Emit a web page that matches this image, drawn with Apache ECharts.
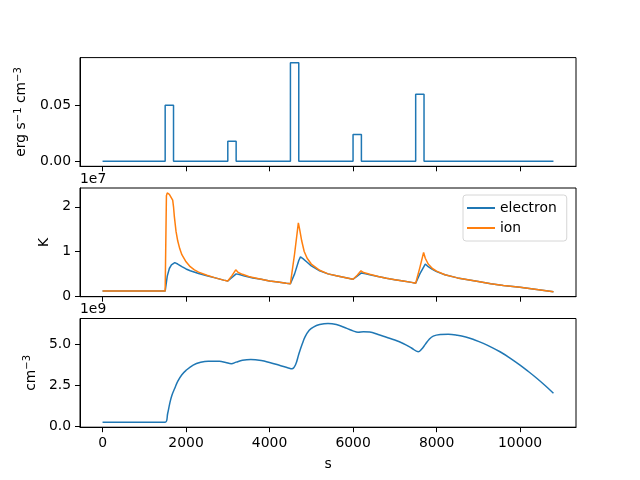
<!DOCTYPE html>
<html>
<head>
<meta charset="utf-8">
<script src="https://cdn.jsdelivr.net/npm/echarts@6/dist/echarts.min.js"></script>
<style>
html,body{margin:0;padding:0;background:#fff;}
#chart{width:640px;height:480px;}
</style>
</head>
<body>
<div id="chart"></div>
<script>
// ---- data ----
const xTicks = [0, 2000, 4000, 6000, 8000, 10000];

// heating rate (erg s^-1 cm^-3)
const heatTime = [0, 1500, 1500, 1700, 1700, 3000, 3000, 3200, 3200, 4500, 4500, 4700, 4700, 6000, 6000, 6200, 6200, 7500, 7500, 7700, 7700, 10800];
const heatRate = [0, 0, 0.05, 0.05, 0, 0, 0.018, 0.018, 0, 0, 0.088, 0.088, 0, 0, 0.024, 0.024, 0, 0, 0.06, 0.06, 0, 0];
const heatTicks = [0, 0.05];

// temperature (units of 1e7 K)
const elecTime = [0, 1500, 1550, 1600, 1650, 1730, 1800, 1900, 2000, 2100, 2300, 2500, 2700, 2900, 3000, 3100, 3200, 3300, 3400, 3600, 3800, 4000, 4200, 4400, 4500, 4600, 4700, 4740, 4800, 4900, 5000, 5200, 5400, 5600, 5800, 6000, 6100, 6200, 6300, 6400, 6600, 6800, 7000, 7200, 7400, 7500, 7600, 7730, 7800, 7900, 8000, 8200, 8500, 9000, 9300, 9600, 10000, 10400, 10800];
const elecTemp = [0.115, 0.115, 0.45, 0.62, 0.70, 0.75, 0.72, 0.66, 0.61, 0.57, 0.51, 0.46, 0.41, 0.36, 0.34, 0.42, 0.50, 0.48, 0.45, 0.41, 0.38, 0.34, 0.32, 0.29, 0.28, 0.50, 0.80, 0.88, 0.84, 0.76, 0.68, 0.57, 0.50, 0.46, 0.42, 0.38, 0.45, 0.52, 0.50, 0.48, 0.44, 0.40, 0.37, 0.34, 0.31, 0.29, 0.50, 0.72, 0.66, 0.60, 0.55, 0.48, 0.41, 0.33, 0.28, 0.24, 0.20, 0.15, 0.10];
const ionTime = [0, 1500, 1530, 1550, 1600, 1680, 1700, 1720, 1760, 1800, 1850, 1900, 2000, 2100, 2200, 2300, 2500, 2700, 2900, 3000, 3100, 3190, 3250, 3350, 3500, 3600, 3800, 4000, 4200, 4400, 4500, 4600, 4690, 4720, 4770, 4830, 4900, 5000, 5200, 5400, 5600, 5800, 6000, 6100, 6190, 6250, 6400, 6600, 6800, 7000, 7200, 7400, 7500, 7600, 7690, 7730, 7800, 7900, 8000, 8200, 8500, 9000, 9300, 9600, 10000, 10400, 10800];
const ionTemp = [0.115, 0.115, 2.25, 2.31, 2.28, 2.15, 2.0, 1.78, 1.45, 1.24, 1.06, 0.93, 0.77, 0.66, 0.59, 0.54, 0.47, 0.41, 0.36, 0.34, 0.46, 0.59, 0.53, 0.49, 0.44, 0.42, 0.38, 0.34, 0.32, 0.29, 0.28, 0.95, 1.64, 1.50, 1.24, 1.00, 0.85, 0.72, 0.58, 0.50, 0.46, 0.42, 0.38, 0.47, 0.57, 0.53, 0.49, 0.44, 0.40, 0.37, 0.34, 0.31, 0.29, 0.64, 0.98, 0.85, 0.72, 0.62, 0.56, 0.48, 0.41, 0.33, 0.28, 0.24, 0.20, 0.15, 0.10];
const tempTicks = [0, 1, 2];

// density (units of 1e9 cm^-3)
const densTime = [0, 1500, 1560, 1610, 1660, 1730, 1800, 1900, 2000, 2170, 2350, 2530, 2800, 2950, 3085, 3200, 3350, 3550, 3800, 4000, 4250, 4450, 4540, 4620, 4700, 4780, 4850, 4950, 5050, 5200, 5400, 5600, 5850, 6000, 6120, 6250, 6400, 6600, 6800, 7000, 7200, 7400, 7560, 7640, 7730, 7820, 7920, 8100, 8280, 8500, 8700, 8900, 9120, 9320, 9520, 9760, 10000, 10200, 10400, 10600, 10800];
const density = [0.27, 0.27, 0.8, 1.42, 1.9, 2.33, 2.75, 3.15, 3.42, 3.74, 3.91, 3.98, 3.97, 3.90, 3.83, 3.92, 4.03, 4.08, 4.02, 3.90, 3.72, 3.57, 3.52, 3.75, 4.4, 5.0, 5.45, 5.85, 6.05, 6.2, 6.27, 6.2, 5.97, 5.82, 5.74, 5.76, 5.75, 5.6, 5.43, 5.26, 5.05, 4.78, 4.55, 4.7, 5.0, 5.3, 5.5, 5.6, 5.62, 5.56, 5.45, 5.28, 5.06, 4.82, 4.55, 4.17, 3.74, 3.35, 2.94, 2.50, 2.03];
const densTicks = [0, 2.5, 5.0];

// ---- chart ----
const zip = (a, b) => a.map((v, i) => [v, b[i]]);
const FONT = 'DejaVu Sans';
const FS = 13.9;
const C1 = '#1f77b4', C2 = '#ff7f0e';
const gridTops = [57.6, 188.0, 318.5];
const gridH = 108.7;
const nameRich = {
  n: {color: '#000', fontFamily: FONT, fontSize: FS},
  s: {color: '#000', fontFamily: FONT, fontSize: 10, padding: [0, 0, 7, 0]}
};

function xAxis(i, showLabels) {
  return {
    type: 'value', gridIndex: i, min: -540, max: 11340,
    splitLine: {show: false},
    axisLine: {show: true, onZero: false, lineStyle: {color: '#000', width: 1}},
    axisTick: {show: true, length: 5, lineStyle: {color: '#000'}, customValues: xTicks},
    axisLabel: {show: showLabels, customValues: xTicks, formatter: v => String(v), color: '#000', fontFamily: FONT, fontSize: FS, margin: 9},
    name: showLabels ? 's' : '', nameLocation: 'middle', nameGap: 30,
    nameTextStyle: {color: '#000', fontFamily: FONT, fontSize: FS}
  };
}
function yAxis(i, min, max, ticks, fmt, name, gap) {
  return {
    type: 'value', gridIndex: i, min: min, max: max,
    splitLine: {show: false},
    axisLine: {show: true, onZero: false, lineStyle: {color: '#000', width: 1}},
    axisTick: {show: true, length: 5, lineStyle: {color: '#000'}, customValues: ticks},
    axisLabel: {customValues: ticks, formatter: fmt, color: '#000', fontFamily: FONT, fontSize: FS, margin: 9},
    name: name, nameLocation: 'middle', nameRotate: 90, nameGap: gap,
    nameTextStyle: {color: '#000', fontFamily: FONT, fontSize: FS, rich: nameRich}
  };
}

const chart = echarts.init(document.getElementById('chart'), null, {renderer: 'canvas'});
chart.setOption({
  animation: false,
  backgroundColor: '#fff',
  textStyle: {fontFamily: FONT},
  grid: gridTops.map(t => ({left: 80, width: 496, top: t, height: gridH, show: true, borderColor: '#000', borderWidth: 1, backgroundColor: 'transparent'})),
  xAxis: [xAxis(0, false), xAxis(1, false), xAxis(2, true)],
  yAxis: [
    yAxis(0, -0.0044, 0.0926, heatTicks, v => v.toFixed(2), '{n|erg s}{s|\u22121}{n| cm}{s|\u22123}', 50),
    yAxis(1, -0.0105, 2.42, tempTicks, v => v.toFixed(0), 'K', 26),
    yAxis(2, -0.03, 6.57, densTicks, v => v.toFixed(1), '{n|cm}{s|\u22123}', 39)
  ],
  legend: {
    data: [{name: 'electron'}, {name: 'ion'}],
    orient: 'vertical', left: 463, top: 195,
    icon: 'rect', itemWidth: 28, itemHeight: 2, itemGap: 6,
    padding: [6, 10, 6, 4],
    borderColor: '#d6d6d6', borderWidth: 1, borderRadius: 3,
    backgroundColor: 'rgba(255,255,255,0.8)',
    textStyle: {color: '#000', fontFamily: FONT, fontSize: FS}
  },
  graphic: [
    {type: 'text', left: 80, top: 172, style: {text: '1e7', fill: '#000', font: FS + 'px "' + FONT + '"'}},
    {type: 'text', left: 80, top: 302, style: {text: '1e9', fill: '#000', font: FS + 'px "' + FONT + '"'}}
  ],
  series: [
    {type: 'line', name: 'heating', xAxisIndex: 0, yAxisIndex: 0, data: zip(heatTime, heatRate), showSymbol: false, lineStyle: {color: C1, width: 1.5}, itemStyle: {color: C1}},
    {type: 'line', name: 'electron', xAxisIndex: 1, yAxisIndex: 1, data: zip(elecTime, elecTemp), showSymbol: false, lineStyle: {color: C1, width: 1.5}, itemStyle: {color: C1}},
    {type: 'line', name: 'ion', xAxisIndex: 1, yAxisIndex: 1, data: zip(ionTime, ionTemp), showSymbol: false, lineStyle: {color: C2, width: 1.5}, itemStyle: {color: C2}},
    {type: 'line', name: 'density', xAxisIndex: 2, yAxisIndex: 2, data: zip(densTime, density), showSymbol: false, smooth: 0.4, lineStyle: {color: C1, width: 1.5}, itemStyle: {color: C1}}
  ]
});
</script>
</body>
</html>
